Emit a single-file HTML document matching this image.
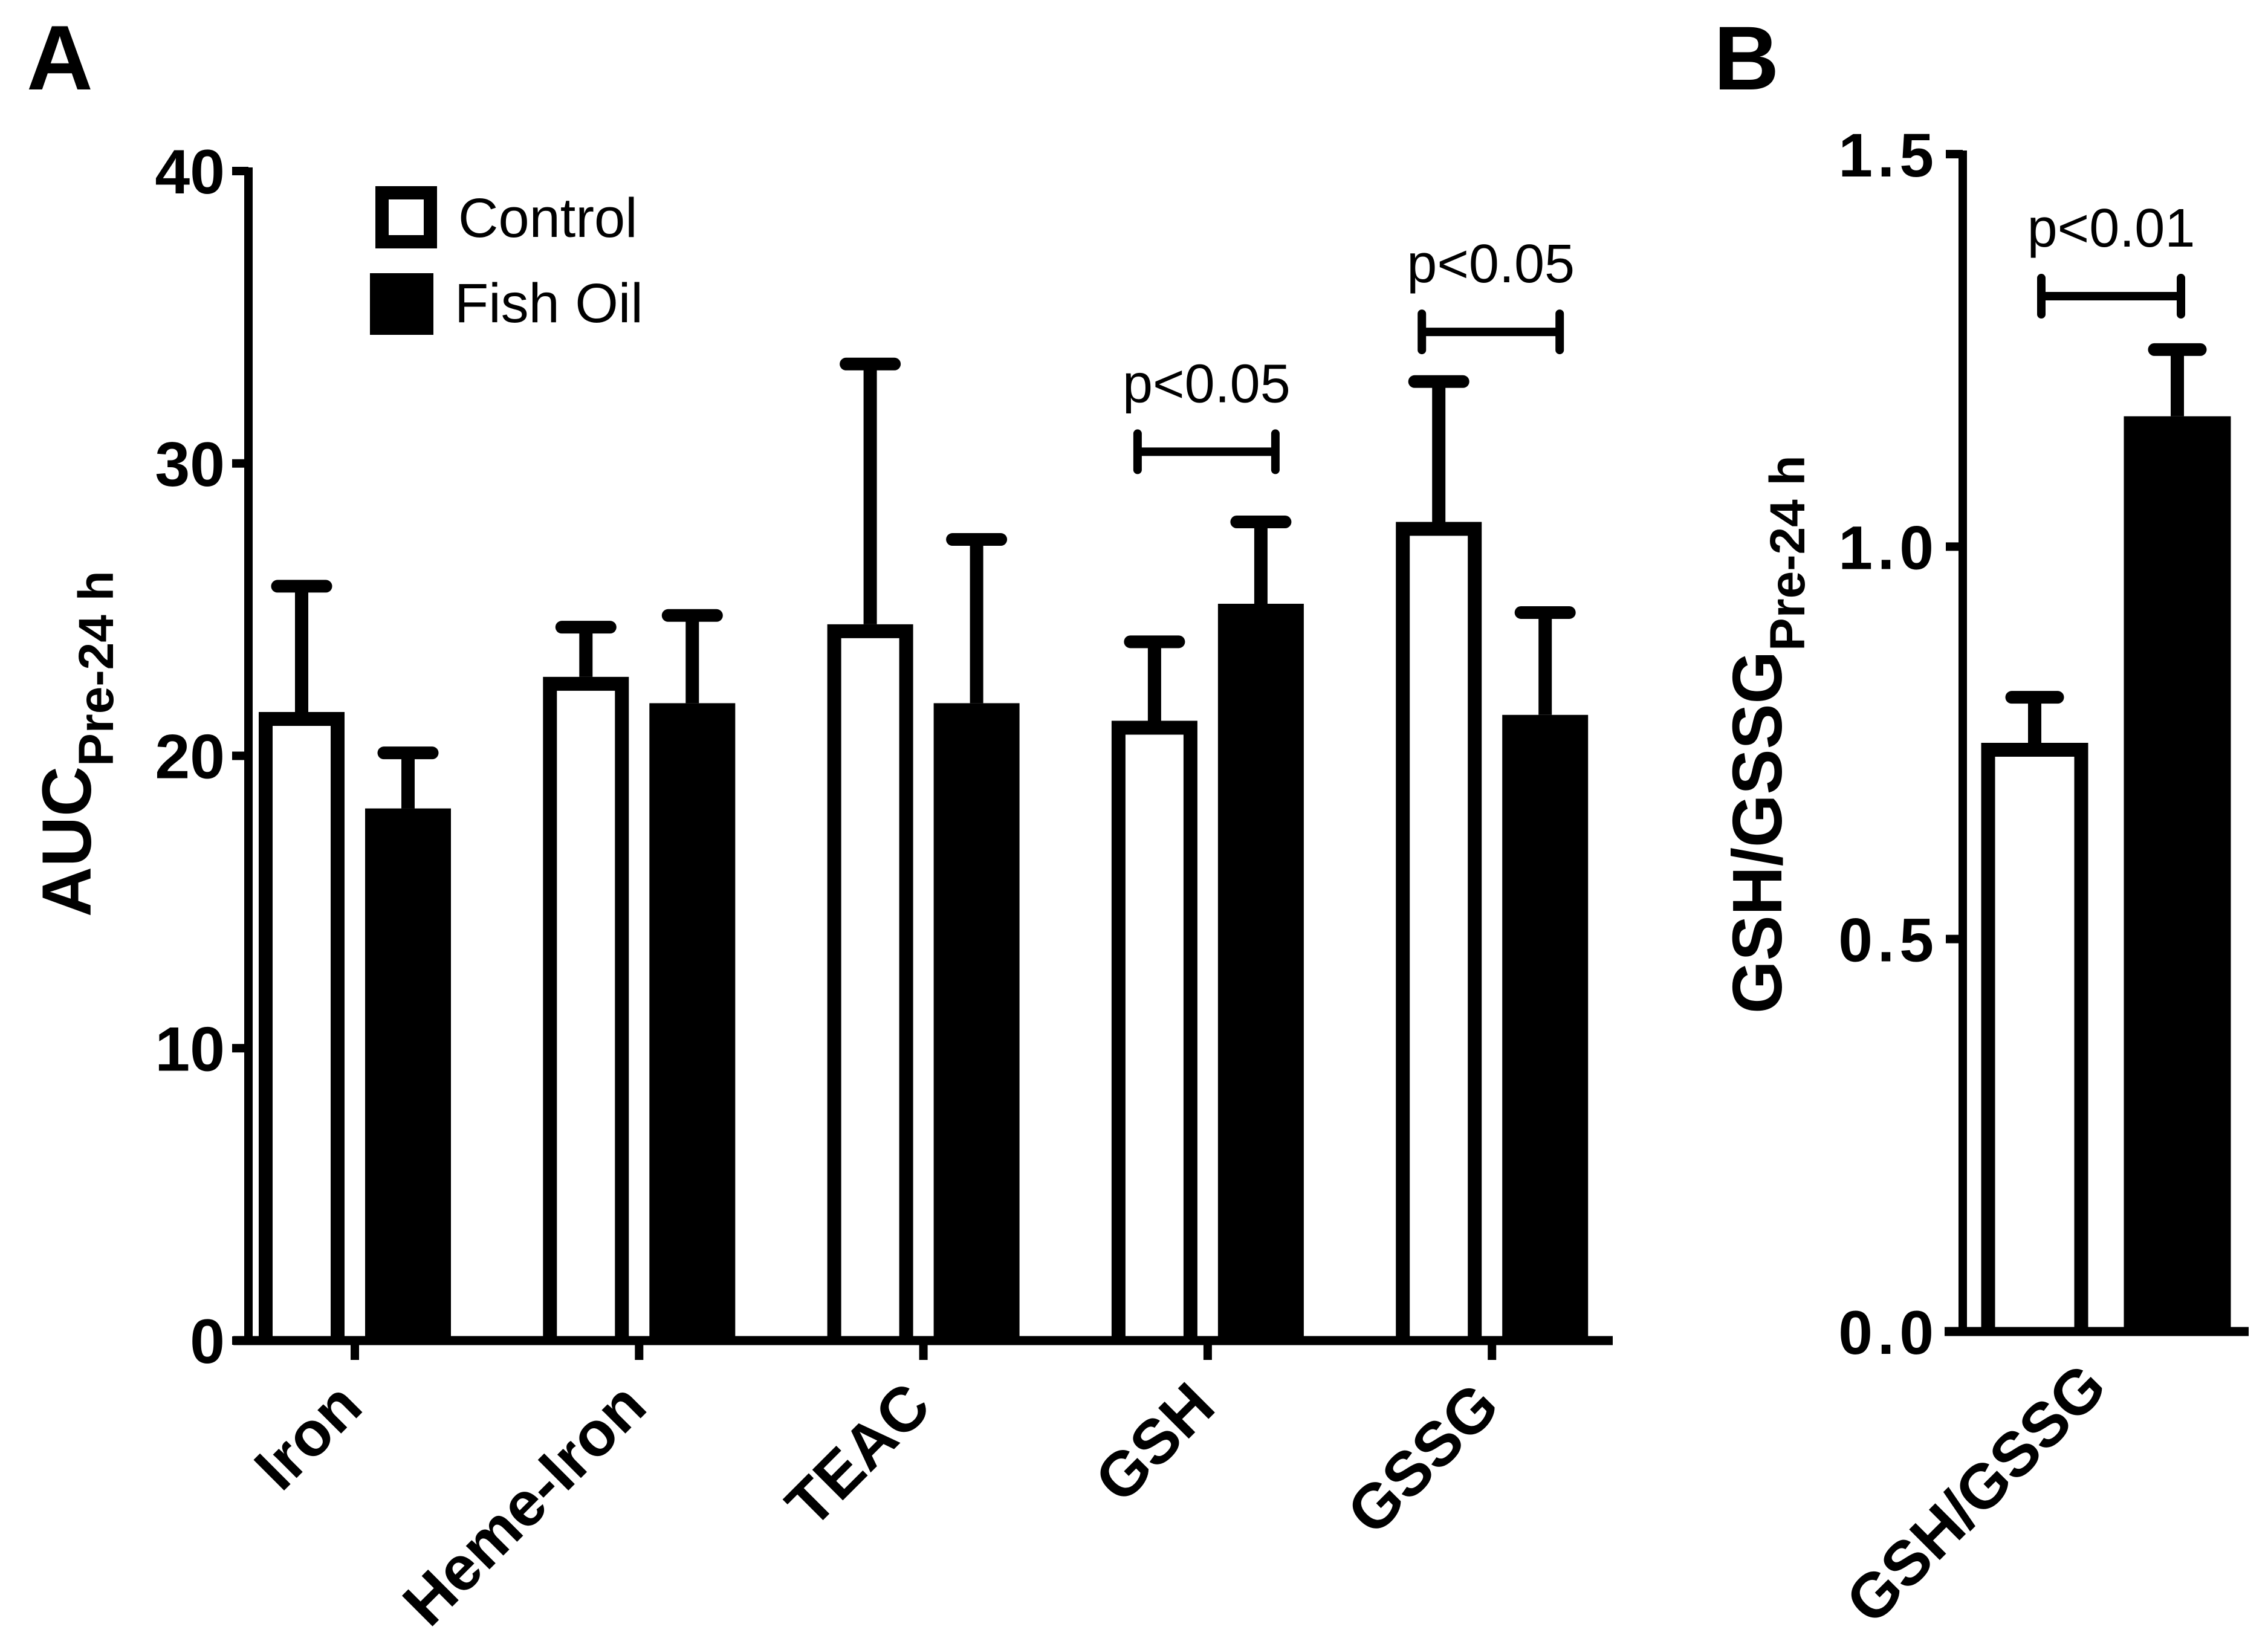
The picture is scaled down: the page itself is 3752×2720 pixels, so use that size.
<!DOCTYPE html>
<html><head><meta charset="utf-8"><style>
html,body{margin:0;padding:0;background:#fff;}
svg{display:block;}
text{font-family:"Liberation Sans",Arial,sans-serif;fill:#000;}
</style></head><body>
<svg id="fig" width="3752" height="2720" viewBox="0 0 3752 2720" xmlns="http://www.w3.org/2000/svg">
<text x="44" y="148" font-size="152" font-weight="bold">A</text>
<text x="2835" y="148" font-size="150" font-weight="bold">B</text>
<g id="pa"></g>
<g id="pb"></g>
<g>
<rect x="632" y="319" width="80" height="81" fill="#fff" stroke="#000" stroke-width="22"/>
<text x="758" y="392" font-size="92">Control</text>
<rect x="612" y="452" width="105" height="102" fill="#000"/>
<text x="752" y="533" font-size="92">Fish Oil</text>
</g>
<text transform="translate(150,1517) rotate(-90)" font-size="115" font-weight="bold">AUC<tspan font-size="82" dy="37">Pre-24 h</tspan></text>
<text transform="translate(2947,1677) rotate(-90)" font-size="116" font-weight="bold"><tspan textLength="600" lengthAdjust="spacingAndGlyphs">GSH/GSSG</tspan><tspan font-size="82" dy="38">Pre-24 h</tspan></text>
</svg>
<script>
// Panel A data
const categories = ["Iron","Heme-Iron","TEAC","GSH","GSSG"];
const controlMeans = [21.5, 22.7, 24.5, 21.2, 28.0];
const controlErr = [25.8, 24.4, 33.4, 23.9, 32.8];
const fishMeans = [18.2, 21.8, 21.8, 25.2, 21.4];
const fishErr = [20.1, 24.8, 27.4, 28.0, 24.9];
const yTicksA = [0, 10, 20, 30, 40];
const sigA = [{cat: 3, label: "p<0.05", y: 30.4}, {cat: 4, label: "p<0.05", y: 34.5}];
// Panel B data
const categoriesB = ["GSH/GSSG"];
const controlB = [0.75];
const controlBErr = [0.808];
const fishB = [1.166];
const fishBErr = [1.251];
const yTicksB = [0.0, 0.5, 1.0, 1.5];
const sigB = [{label: "p<0.01", y: 1.319}];

const NS = "http://www.w3.org/2000/svg";
function mk(parent, tag, attrs, txt) {
  const e = document.createElementNS(NS, tag);
  for (const k in attrs) e.setAttribute(k, attrs[k]);
  if (txt !== undefined) e.textContent = txt;
  parent.appendChild(e);
  return e;
}
function errBar(g, cx, yTop, yBar, half, name) {
  const s = mk(g, "line", {x1: cx, x2: cx, y1: yTop, y2: yBar, stroke: "#000", "stroke-width": 22});
  
  
  const c = mk(g, "line", {x1: cx - half + 10, x2: cx + half - 10, y1: yTop, y2: yTop, stroke: "#000", "stroke-width": 21, "stroke-linecap": "round"});
  
  
}
function bar(g, cx, w, y0, yv, filled, name) {
  let r;
  if (filled) r = mk(g, "rect", {x: cx - w/2, y: yv, width: w, height: y0 - yv, fill: "#000"});
  else {
    const l = cx - w/2 + 11.5, rr = cx + w/2 - 11.5, t = yv + 11.5;
    r = mk(g, "path", {d: `M${l} ${y0}V${t}H${rr}V${y0}`, fill: "#fff", stroke: "#000", "stroke-width": 23, "stroke-linejoin": "miter"});
  }
  
  
}
function bracket(g, x1, x2, y, label, name) {
  const l = mk(g, "path", {d: `M${x1} ${y-30}V${y+30}M${x1} ${y}H${x2}M${x2} ${y-30}V${y+30}`, stroke: "#000", "stroke-width": 14, fill: "none", "stroke-linecap": "round"});
  
  
  const t = mk(g, "text", {x: (x1 + x2) / 2, y: y - 82, "font-size": 90, "text-anchor": "middle"}, label);
  
  
}

// ---- Panel A ----
(function(){
  const g = document.getElementById("pa");
  const y0 = 2218, y40 = 283;
  const ys = v => y0 - (y0 - y40) * v / 40;
  const ctrlX = i => 499 + 470.3 * i;
  const fishX = i => ctrlX(i) + 176;
  const tickX = i => ctrlX(i) + 88;
  const bw = 142;
  categories.forEach((c, i) => {
    errBar(g, ctrlX(i), ys(controlErr[i]), ys(controlMeans[i]), 50, 'control-' + c.toLowerCase());
    bar(g, ctrlX(i), bw, y0, ys(controlMeans[i]), false, 'bar-control-' + c.toLowerCase());
    errBar(g, fishX(i), ys(fishErr[i]), ys(fishMeans[i]), 50, 'fish-oil-' + c.toLowerCase());
    bar(g, fishX(i), bw, y0, ys(fishMeans[i]), true, 'bar-fish-oil-' + c.toLowerCase());
  });
  const ax = mk(g, "line", {x1: 411, x2: 411, y1: ys(40) - 6, y2: y0 + 7, stroke: "#000", "stroke-width": 14});
  
  
  const xx = mk(g, "line", {x1: 386, x2: 2668, y1: y0, y2: y0, stroke: "#000", "stroke-width": 15});
  
  
  yTicksA.forEach(v => {
    const t = mk(g, "line", {x1: 384, x2: 411, y1: ys(v), y2: ys(v), stroke: "#000", "stroke-width": 14});
    
    
    const l = mk(g, "text", {x: 372, y: ys(v) + 37, "font-size": 104, "font-weight": "bold", "text-anchor": "end"}, String(v));
    
    
  });
  categories.forEach((c, i) => {
    const t = mk(g, "line", {x1: tickX(i), x2: tickX(i), y1: y0, y2: y0 + 32, stroke: "#000", "stroke-width": 14});
    
    
    const l = mk(g, "text", {transform: `translate(${tickX(i) + 17},2332) rotate(-45)`, "font-size": 104, "font-weight": "bold", "text-anchor": "end"}, c);
    
    
  });
  sigA.forEach(s => {
    bracket(g, ctrlX(s.cat) - 28, fishX(s.cat) + 24, ys(s.y), s.label, 'significance-' + categories[s.cat].toLowerCase());
  });
})();

// ---- Panel B ----
(function(){
  const g = document.getElementById("pb");
  const y0 = 2203, y15 = 255;
  const ys = v => y0 - (y0 - y15) * v / 1.5;
  const cx = 3366, fx = 3602, bw = 177;
  errBar(g, cx, ys(controlBErr[0]), ys(controlB[0]), 48, 'control-ratio');
  bar(g, cx, bw, y0, ys(controlB[0]), false, 'bar-control-ratio');
  errBar(g, fx, ys(fishBErr[0]), ys(fishB[0]), 48, 'fish-oil-ratio');
  bar(g, fx, bw, y0, ys(fishB[0]), true, 'bar-fish-oil-ratio');
  const ax = mk(g, "line", {x1: 3247, x2: 3247, y1: ys(1.5) - 6, y2: y0 + 7, stroke: "#000", "stroke-width": 14});
  
  
  const xx = mk(g, "line", {x1: 3217, x2: 3720, y1: y0, y2: y0, stroke: "#000", "stroke-width": 15});
  
  
  yTicksB.forEach(v => {
    const t = mk(g, "line", {x1: 3219, x2: 3247, y1: ys(v), y2: ys(v), stroke: "#000", "stroke-width": 14});
    
    
    const l = mk(g, "text", {x: 3207, y: ys(v) + 37, "font-size": 102, "font-weight": "bold", "text-anchor": "end", "letter-spacing": "8"}, v.toFixed(1));
    
    
  });
  categoriesB.forEach(c => {
    const l = mk(g, "text", {transform: `translate(3490,2300) rotate(-45)`, "font-size": 104, "font-weight": "bold", "text-anchor": "end"}, c);
    
    
  });
  sigB.forEach(s => bracket(g, 3377, 3608, ys(s.y), s.label, 'significance-ratio'));
})();
</script>
</body></html>
